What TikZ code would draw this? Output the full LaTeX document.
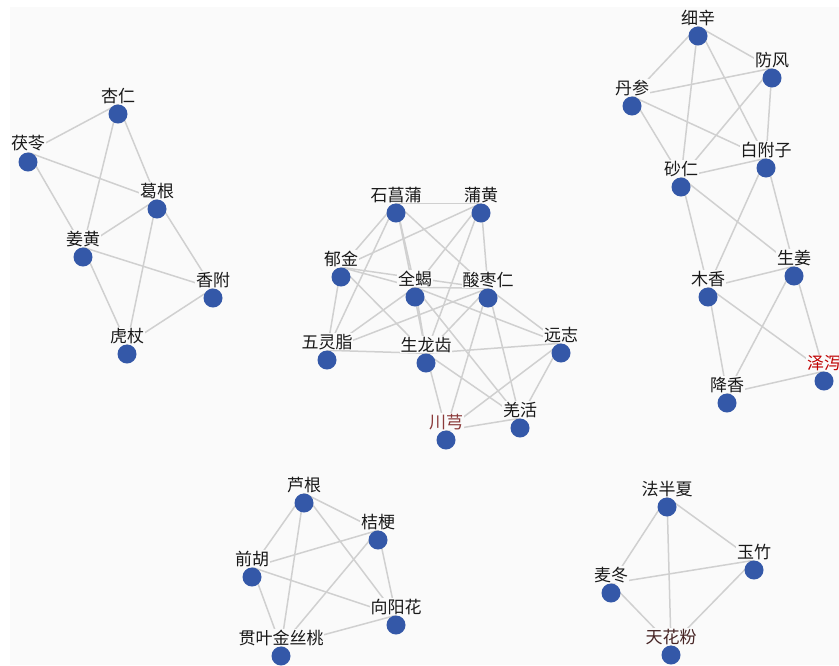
\documentclass[tikz,border=0pt]{standalone}
\usepackage{fontspec}
\usepackage{tikz}
\usetikzlibrary{backgrounds}
\newfontfamily\cjk{Noto Sans CJK SC}
\definecolor{herbblue}{RGB}{52,88,168}
\definecolor{linkgray}{RGB}{208,208,208}
\definecolor{paper}{RGB}{250,250,250}
\definecolor{ruby}{RGB}{139,58,58}
\definecolor{darkbrown}{RGB}{70,36,36}
\tikzstyle{herb}=[circle,fill=herbblue,minimum size=19pt,inner sep=0pt,label distance=2pt]
\tikzstyle{link}=[draw=linkgray,line width=1.5pt]
\tikzset{every label/.style={fill=paper,inner sep=0.6pt,font=\cjk\fontsize{17}{17}\selectfont,text=black!90}}

\begin{document}
\begin{tikzpicture}[x=1pt,y=-1pt]
            \useasboundingbox (0,0) rectangle (839,665);
            % left group
            \node[herb,label=above:杏仁] (xingren) at (118,114) {};
            \node[herb,label=above:茯苓] (fuling) at (28,162) {};
            \node[herb,label=above:葛根] (gegen) at (157,209) {};
            \node[herb,label=above:姜黄] (jianghuang) at (83,257) {};
            \node[herb,label=above:香附] (xiangfu) at (213,298) {};
            \node[herb,label=above:虎杖] (huzhang) at (127,354) {};
            % middle group
            \node[herb,label=above:石菖蒲] (shichangpu) at (396,213) {};
            \node[herb,label=above:蒲黄] (puhuang) at (481,213) {};
            \node[herb,label=above:郁金] (yujin) at (341,277) {};
            \node[herb,label=above:全蝎] (quanxie) at (415,297) {};
            \node[herb,label=above:酸枣仁] (suanzaoren) at (488,298) {};
            \node[herb,label=above:五灵脂] (wulingzhi) at (327,360) {};
            \node[herb,label=above:生龙齿] (shenglongchi) at (426,363) {};
            \node[herb,label=above:远志] (yuanzhi) at (561,353) {};
            \node[herb,label={[text=ruby]above:川芎}] (chuanxiong) at (446,440) {};
            \node[herb,label=above:羌活] (qianghuo) at (520,428) {};
            % top right group
            \node[herb,label=above:细辛] (xixin) at (698,36) {};
            \node[herb,label=above:防风] (fangfeng) at (772,78) {};
            \node[herb,label=above:丹参] (danshen) at (632,106) {};
            \node[herb,label=above:白附子] (baifuzi) at (766,168) {};
            \node[herb,label=above:砂仁] (sharen) at (681,187) {};
            \node[herb,label=above:生姜] (shengjiang) at (794,276) {};
            \node[herb,label=above:木香] (muxiang) at (708,297) {};
            \node[herb,label={[text=red!75!black]above:泽泻}] (zexie) at (824,381) {};
            \node[herb,label=above:降香] (jiangxiang) at (727,403) {};
            % bottom left group
            \node[herb,label=above:芦根] (lugen) at (304,503) {};
            \node[herb,label=above:桔梗] (jiegeng) at (378,540) {};
            \node[herb,label=above:前胡] (qianhu) at (252,577) {};
            \node[herb,label=above:向阳花] (xiangyanghua) at (396,625) {};
            \node[herb,label=above:贯叶金丝桃] (guanye) at (281,656) {};
            % bottom right group
            \node[herb,label=above:法半夏] (fabanxia) at (667,507) {};
            \node[herb,label=above:玉竹] (yuzhu) at (754,570) {};
            \node[herb,label=above:麦冬] (maidong) at (611,593) {};
            \node[herb,label={[text=darkbrown]above:天花粉}] (tianhuafen) at (671,655) {};
            \begin{pgfonlayer}{background}
              \fill[white] (0,0) rectangle (839,665);
              \fill[paper] (10,7) rectangle (839,665);
              \foreach \a/\b in {xingren/fuling,xingren/gegen,xingren/jianghuang,fuling/gegen,fuling/jianghuang,
                  gegen/jianghuang,gegen/xiangfu,gegen/huzhang,jianghuang/xiangfu,jianghuang/huzhang,xiangfu/huzhang,
                  shichangpu/puhuang,shichangpu/yujin,shichangpu/wulingzhi,shichangpu/suanzaoren,shichangpu/quanxie,
                  shichangpu/shenglongchi,puhuang/yujin,puhuang/quanxie,puhuang/suanzaoren,puhuang/shenglongchi,
                  yujin/quanxie,yujin/suanzaoren,yujin/shenglongchi,yujin/wulingzhi,quanxie/suanzaoren,
                  quanxie/shenglongchi,quanxie/yuanzhi,quanxie/qianghuo,suanzaoren/yuanzhi,suanzaoren/qianghuo,
                  suanzaoren/chuanxiong,suanzaoren/shenglongchi,wulingzhi/quanxie,wulingzhi/suanzaoren,
                  wulingzhi/shenglongchi,shenglongchi/yuanzhi,shenglongchi/qianghuo,shenglongchi/chuanxiong,
                  yuanzhi/qianghuo,yuanzhi/chuanxiong,chuanxiong/qianghuo,
                  xixin/danshen,xixin/fangfeng,xixin/sharen,xixin/baifuzi,fangfeng/danshen,fangfeng/sharen,
                  fangfeng/baifuzi,danshen/baifuzi,danshen/sharen,sharen/baifuzi,baifuzi/muxiang,baifuzi/shengjiang,
                  sharen/muxiang,sharen/shengjiang,muxiang/shengjiang,muxiang/jiangxiang,muxiang/zexie,
                  shengjiang/jiangxiang,shengjiang/zexie,jiangxiang/zexie,
                  lugen/jiegeng,lugen/qianhu,lugen/guanye,lugen/xiangyanghua,jiegeng/qianhu,jiegeng/guanye,
                  jiegeng/xiangyanghua,qianhu/xiangyanghua,qianhu/guanye,xiangyanghua/guanye,
                  fabanxia/maidong,fabanxia/yuzhu,fabanxia/tianhuafen,maidong/yuzhu,maidong/tianhuafen,yuzhu/tianhuafen}
                \draw[link] (\a.north) -- (\b.north);
            \end{pgfonlayer}
          \end{tikzpicture}
\end{document}
